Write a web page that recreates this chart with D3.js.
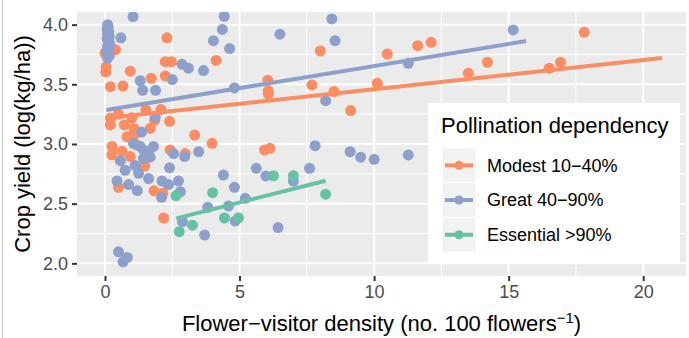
<!DOCTYPE html>
<html>
<head>
<meta charset="utf-8">
<script src="https://cdn.jsdelivr.net/npm/d3@7"></script>
<style>
  body { margin: 0; background: #fff; }
  text { font-family: "Liberation Sans", Arial, sans-serif; }
</style>
</head>
<body>
<div id="chart"></div>
<script>
// values: [density, log yield]
const modestPts = [
  [0.0, 3.76], [0.04, 3.645], [0.03, 3.605], [0.39, 3.79], [2.3, 3.89], [0.94, 3.61],
  [2.24, 3.69], [2.47, 3.69], [2.24, 3.57], [1.72, 3.55], [0.2, 3.48], [0.67, 3.486], [4.13, 3.70],
  [0.2, 3.215], [0.2, 3.16], [0.5, 3.25], [0.72, 3.16], [1.0, 3.22], [1.52, 3.285], [2.08, 3.29],
  [1.85, 3.2], [2.4, 3.19], [1.08, 3.13], [1.68, 3.13], [0.82, 3.06], [1.1, 3.08], [3.33, 3.075],
  [3.98, 3.006], [0.26, 2.98], [0.26, 2.91], [0.63, 2.94], [0.94, 2.895], [1.19, 2.99], [1.5, 2.9],
  [1.48, 2.815], [2.42, 2.95], [2.98, 2.92], [0.5, 2.637], [1.82, 2.608], [2.15, 2.587], [2.18, 2.38],
  [6.05, 3.535], [6.07, 3.447], [6.07, 3.417], [5.93, 2.95], [6.13, 2.964], [8.0, 3.78], [7.69, 3.495],
  [8.51, 3.44], [9.13, 3.28], [10.12, 3.509], [10.49, 3.754], [11.62, 3.824], [12.12, 3.852],
  [13.5, 3.593], [14.21, 3.685], [16.51, 3.635], [16.93, 3.685], [17.81, 3.936]
];
const greatPts = [
  [0.1, 4.0], [0.12, 3.98], [0.08, 3.96], [0.14, 3.94], [0.1, 3.92], [0.16, 3.9], [0.08, 3.88],
  [0.12, 3.86], [0.18, 3.84], [0.1, 3.82], [0.14, 3.8], [0.06, 3.78], [0.12, 3.76], [0.16, 3.74],
  [0.1, 3.72], [1.04, 4.067], [0.59, 3.89],
  [2.86, 3.668], [3.1, 3.635], [3.66, 3.615], [2.5, 3.54], [1.31, 3.53], [1.4, 3.45], [1.88, 3.45],
  [4.03, 3.866], [4.36, 3.96], [4.43, 4.07], [4.63, 3.80], [4.81, 3.47],
  [6.5, 3.92], [8.43, 4.048], [8.55, 3.866], [8.2, 3.363], [11.27, 3.676], [15.17, 3.956],
  [7.81, 2.986], [9.11, 2.935], [9.5, 2.89], [10.0, 2.872], [11.27, 2.908], [5.62, 2.796], [7.6, 2.796],
  [5.98, 2.732], [7.0, 2.69], [4.4, 2.74], [4.81, 2.637], [5.21, 2.545], [3.82, 2.47], [4.59, 2.48],
  [4.84, 2.354], [2.88, 2.35], [3.7, 2.237], [6.43, 2.30],
  [1.87, 3.224], [1.36, 3.10], [1.06, 3.006], [1.31, 2.98], [1.8, 2.98], [1.43, 2.95], [1.62, 2.92],
  [1.68, 2.89], [1.43, 2.88], [0.57, 2.86], [1.12, 2.82], [0.75, 2.78], [1.25, 2.755], [2.55, 2.92],
  [2.96, 2.895], [3.48, 2.935], [2.4, 2.8], [0.45, 2.69], [0.88, 2.66], [1.62, 2.71], [1.2, 2.61],
  [2.12, 2.69], [2.36, 2.66], [2.73, 2.69], [2.1, 2.553], [2.8, 2.6],
  [0.5, 2.097], [0.83, 2.05], [0.67, 2.013]
];
const essentialPts = [
  [2.64, 2.568], [2.76, 2.265], [3.25, 2.32], [4.0, 2.592], [4.44, 2.38],
  [4.96, 2.382], [6.26, 2.734], [7.0, 2.734], [8.2, 2.58]
];
// fitted lines, start and end
const modestFit = [[0, 3.215], [20.7, 3.72]];
const greatFit = [[0.05, 3.285], [15.65, 3.863]];
const essentialFit = [[2.65, 2.377], [8.2, 2.692]];

const groupNames = ["Modest 10\u221240%", "Great 40\u221290%", "Essential >90%"];
const groupColors = ["#FC8D62", "#8DA0CB", "#66C2A5"];
const xTicks = [0, 5, 10, 15, 20];
const yTicks = [2.0, 2.5, 3.0, 3.5, 4.0];

const width = 689, height = 338;
const panel = { left: 77, right: 686, top: 12, bottom: 276 };

const svg = d3.select("#chart").append("svg")
  .attr("width", width)
  .attr("height", height);

// thin frame line at the left of the picture
svg.append("line")
  .attr("x1", 2.5).attr("x2", 2.5).attr("y1", 0).attr("y2", height)
  .attr("stroke", "#c8c8c8").attr("stroke-width", 1);

const x = d3.scaleLinear().domain([-1.04, 21.59]).range([panel.left, panel.right]);
const y = d3.scaleLinear().domain([1.894, 4.106]).range([panel.bottom, panel.top]);

svg.append("rect")
  .attr("x", panel.left).attr("y", panel.top)
  .attr("width", panel.right - panel.left).attr("height", panel.bottom - panel.top)
  .attr("fill", "#EBEBEB");

const grid = svg.append("g");
const xMinor = [2.5, 7.5, 12.5, 17.5];
const yMinor = [2.25, 2.75, 3.25, 3.75];
grid.selectAll("line.xmin").data(xMinor).enter().append("line")
  .attr("x1", d => x(d)).attr("x2", d => x(d)).attr("y1", panel.top).attr("y2", panel.bottom)
  .attr("stroke", "#fff").attr("stroke-width", 1);
grid.selectAll("line.ymin").data(yMinor).enter().append("line")
  .attr("y1", d => y(d)).attr("y2", d => y(d)).attr("x1", panel.left).attr("x2", panel.right)
  .attr("stroke", "#fff").attr("stroke-width", 1);
grid.selectAll("line.xmaj").data(xTicks).enter().append("line")
  .attr("x1", d => x(d)).attr("x2", d => x(d)).attr("y1", panel.top).attr("y2", panel.bottom)
  .attr("stroke", "#fff").attr("stroke-width", 2);
grid.selectAll("line.ymaj").data(yTicks).enter().append("line")
  .attr("y1", d => y(d)).attr("y2", d => y(d)).attr("x1", panel.left).attr("x2", panel.right)
  .attr("stroke", "#fff").attr("stroke-width", 2);

// points
const plot = svg.append("g");
const clipId = "panelclip";
svg.append("clipPath").attr("id", clipId).append("rect")
  .attr("x", panel.left).attr("y", panel.top)
  .attr("width", panel.right - panel.left).attr("height", panel.bottom - panel.top);
plot.attr("clip-path", `url(#${clipId})`);

[modestPts, greatPts, essentialPts].forEach((pts, i) => {
  plot.append("g").selectAll("circle").data(pts).enter().append("circle")
    .attr("cx", d => x(d[0])).attr("cy", d => y(d[1]))
    .attr("r", 5.5)
    .attr("fill", groupColors[i]);
});

const line = d3.line().x(d => x(d[0])).y(d => y(d[1]));
[modestFit, greatFit, essentialFit].forEach((f, i) => {
  plot.append("path").datum(f)
    .attr("d", line)
    .attr("fill", "none")
    .attr("stroke", groupColors[i])
    .attr("stroke-width", 4);
});

// axes
const xAxis = svg.append("g")
  .attr("transform", `translate(0,${panel.bottom})`)
  .call(d3.axisBottom(x).tickValues(xTicks).tickSize(5).tickPadding(4).tickFormat(d3.format("d")));
const yAxis = svg.append("g")
  .attr("transform", `translate(${panel.left},0)`)
  .call(d3.axisLeft(y).tickValues(yTicks).tickSize(5).tickPadding(4).tickFormat(d3.format(".1f")));
[xAxis, yAxis].forEach(a => {
  a.select(".domain").remove();
  a.selectAll(".tick line").attr("stroke", "#333").attr("stroke-width", 2);
  a.selectAll(".tick text").attr("fill", "#4D4D4D").style("font-size", "18px")
    .style("font-family", "'Liberation Sans', Arial, sans-serif");
});

// axis titles
const xt = svg.append("text")
  .attr("x", (panel.left + panel.right) / 2)
  .attr("y", 331)
  .attr("text-anchor", "middle")
  .style("font-size", "22px")
  .attr("fill", "#000");
xt.append("tspan").text("Flower\u2212visitor density (no. 100 flowers");
xt.append("tspan").attr("dy", -8).style("font-size", "15px").text("\u22121");
xt.append("tspan").attr("dy", 8).text(")");

svg.append("text")
  .attr("transform", `translate(30,${(panel.top + panel.bottom) / 2}) rotate(-90)`)
  .attr("text-anchor", "middle")
  .style("font-size", "22px")
  .attr("fill", "#000")
  .text("Crop yield (log(kg/ha))");

// legend
const lg = svg.append("g");
lg.append("rect")
  .attr("x", 428).attr("y", 103).attr("width", 252).attr("height", 160)
  .attr("fill", "#fff");
lg.append("text")
  .attr("x", 441).attr("y", 133)
  .style("font-size", "22px")
  .attr("fill", "#000")
  .text("Pollination dependency");

const keyTop = 148, keyH = 34.7, keyX = 442, keyW = 34;
groupNames.forEach((name, i) => {
  const cy = keyTop + keyH * i + keyH / 2;
  lg.append("rect")
    .attr("x", keyX).attr("y", keyTop + keyH * i)
    .attr("width", keyW).attr("height", keyH)
    .attr("fill", "#F2F2F2").attr("stroke", "#fff").attr("stroke-width", 1);
  lg.append("line")
    .attr("x1", keyX + 3).attr("x2", keyX + keyW - 3).attr("y1", cy).attr("y2", cy)
    .attr("stroke", groupColors[i]).attr("stroke-width", 4);
  lg.append("circle")
    .attr("cx", keyX + keyW / 2).attr("cy", cy).attr("r", 4.5)
    .attr("fill", groupColors[i]);
  lg.append("text")
    .attr("x", 487).attr("y", cy)
    .attr("dy", "0.35em")
    .style("font-size", "18px")
    .attr("fill", "#000")
    .text(name);
});
</script>
</body>
</html>
